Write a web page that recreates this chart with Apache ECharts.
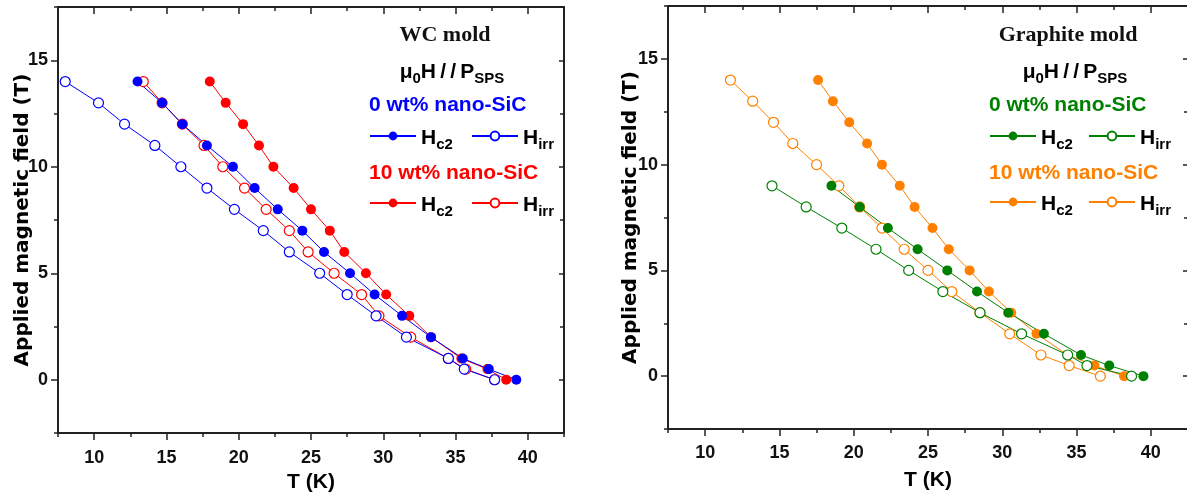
<!DOCTYPE html>
<html>
<head>
<meta charset="utf-8">
<script src="https://cdn.jsdelivr.net/npm/echarts@6/dist/echarts.min.js"></script>
<style>
  html, body { margin: 0; padding: 0; background: #fff; }
  #chart { width: 1187px; height: 497px; }
</style>
</head>
<body>
<div id="chart"></div>
<script>
// ---------------- DATA ----------------
// Applied field levels (T)
const fieldLevels = [14, 13, 12, 11, 10, 9, 8, 7, 6, 5, 4, 3, 2, 1, 0.5, 0];
const fieldLevelsG0 = [9, 8, 7, 6, 5, 4, 3, 2, 1, 0.5, 0];

// WC mold, temperature (K)
const wc0Hc2T   = [13.0, 14.7, 16.1, 17.8, 19.6, 21.1, 22.7, 24.4, 25.9, 27.7, 29.4, 31.3, 33.3, 35.5, 37.3, 39.2];
const wc0HirrT  = [8.0, 10.3, 12.1, 14.2, 16.0, 17.8, 19.7, 21.7, 23.5, 25.6, 27.5, 29.5, 31.6, 34.5, 35.6, 37.7];
const wc10Hc2T  = [18.0, 19.1, 20.3, 21.4, 22.4, 23.8, 25.0, 26.3, 27.3, 28.8, 30.2, 31.8, 33.3, 35.4, 37.2, 38.5];
const wc10HirrT = [13.4, 14.7, 16.1, 17.6, 18.9, 20.4, 21.9, 23.5, 24.8, 26.6, 28.5, 29.7, 31.9, 34.5, 35.7, 37.7];

// Graphite mold, temperature (K)
const gr0Hc2T   = [18.5, 20.4, 22.3, 24.3, 26.3, 28.3, 30.4, 32.8, 35.3, 37.2, 39.5];
const gr0HirrT  = [14.5, 16.8, 19.2, 21.5, 23.7, 26.0, 28.5, 31.3, 34.4, 35.7, 38.7];
const gr10Hc2T  = [17.6, 18.6, 19.7, 20.9, 21.9, 23.1, 24.1, 25.3, 26.4, 27.8, 29.1, 30.6, 32.3, 34.4, 36.2, 38.2];
const gr10HirrT = [11.7, 13.2, 14.6, 15.9, 17.5, 19.0, 20.4, 21.9, 23.4, 25.0, 26.6, 28.5, 30.5, 32.6, 34.5, 36.6];

// Tick labels
const xTickValues = [10, 15, 20, 25, 30, 35, 40];
const yTickValues = [0, 5, 10, 15];

// ---------------- STYLE ----------------
const C_BLUE = '#0000FF', C_RED = '#FF0000', C_GREEN = '#008000', C_ORANGE = '#FF8000';
const AX = '#222';
const SANS = '"Liberation Sans", Arial, sans-serif';
const SERIF = '"Liberation Serif", "Times New Roman", serif';

function zip(ts, hs) { return ts.map((t, i) => [t, hs[i]]); }

function mkSeries(name, ts, hs, color, filled, xi) {
  return {
    name: name, type: 'line', xAxisIndex: xi, yAxisIndex: xi,
    data: zip(ts, hs),
    symbol: 'circle', symbolSize: 10,
    lineStyle: { color: color, width: 1 },
    itemStyle: filled ? { color: color, borderColor: color, borderWidth: 0 }
                      : { color: '#fff', borderColor: color, borderWidth: 1.2 },
    emphasis: { disabled: true },
    animation: false, clip: true
  };
}

const richSub = {
  h: { fontSize: 21, fontWeight: 'bold', fontFamily: SANS, color: '#000', padding: [8, 0, 3, 0] },
  s: { fontSize: 15, fontWeight: 'bold', fontFamily: SANS, color: '#000', verticalAlign: 'bottom' }
};
const LABELS = {};
function mkLegend(name, disp, left, cy) {
  LABELS[name] = disp;
  return {
    show: true, left: left, top: cy - 8, orient: 'horizontal', padding: 0,
    itemWidth: 46, itemHeight: 11, itemGap: 0, selectedMode: false,
    data: [name],
    formatter: n => LABELS[n],
    textStyle: { color: '#000', rich: richSub }
  };
}

// Axes builders
function gridRect(left, top, width, height) {
  return { left: left, top: top, width: width, height: height, containLabel: false, outerBoundsMode: 'none', show: false };
}
function xMinor(gi, pos, name, nameGap) {
  return {
    type: 'value', gridIndex: gi, position: pos, min: 7.5, max: 42.5, interval: 2.5,
    axisLine: { show: true, onZero: false, lineStyle: { color: AX, width: 2 } },
    axisTick: { show: true, inside: pos === 'top', length: 4, lineStyle: { color: AX, width: 1.5 } },
    axisLabel: { show: false }, splitLine: { show: false },
    name: name || '', nameLocation: 'middle', nameGap: nameGap || 0,
    nameTextStyle: { fontFamily: SANS, fontWeight: 'bold', fontSize: 21, color: '#000' }
  };
}
function xMajor(gi, pos, margin) {
  return {
    type: 'value', gridIndex: gi, position: pos, min: 7.5, max: 42.5,
    axisLine: { show: false, onZero: false },
    axisTick: { show: true, inside: pos === 'top', length: 7, customValues: xTickValues, lineStyle: { color: AX, width: 1.5 } },
    axisLabel: { show: pos === 'bottom', customValues: xTickValues, margin: margin, fontFamily: SANS, fontWeight: 'bold', fontSize: 18, color: '#111' },
    splitLine: { show: false }
  };
}
function yMinor(gi, pos, name, nameGap) {
  return {
    type: 'value', gridIndex: gi, position: pos, min: -2.5, max: 17.5, interval: 2.5,
    axisLine: { show: true, onZero: false, lineStyle: { color: AX, width: 2 } },
    axisTick: { show: true, inside: pos === 'right', length: 4, lineStyle: { color: AX, width: 1.5 } },
    axisLabel: { show: false }, splitLine: { show: false },
    name: name || '', nameLocation: 'middle', nameGap: nameGap || 0,
    nameTextStyle: { fontFamily: '"DejaVu Sans", sans-serif', fontWeight: 'bold', fontSize: 20, color: '#000' }
  };
}
function yMajor(gi, pos) {
  return {
    type: 'value', gridIndex: gi, position: pos, min: -2.5, max: 17.5,
    axisLine: { show: false, onZero: false },
    axisTick: { show: true, inside: pos === 'right', length: pos === 'right' ? 5 : 7, customValues: yTickValues, lineStyle: { color: AX, width: 1.5 } },
    axisLabel: { show: pos === 'left', customValues: yTickValues, margin: 10, fontFamily: SANS, fontWeight: 'bold', fontSize: 18, color: '#111' },
    splitLine: { show: false }
  };
}

const yName = 'Applied magnetic field (T)';
const muText = '{h|μ}{s|0}{h|H\u2009/\u2009/\u2009P}{s|SPS}';

const option = {
  backgroundColor: '#fff',
  animation: false,
  grid: [
    gridRect(58, 7, 506, 426), gridRect(58, 7, 506, 426),
    gridRect(668, 6, 520, 423), gridRect(668, 6, 520, 423)
  ],
  xAxis: [
    xMinor(0, 'bottom', 'T (K)', 39), xMinor(0, 'top'),
    xMajor(1, 'bottom', 16), xMajor(1, 'top'),
    xMinor(2, 'bottom', 'T (K)', 41), xMinor(2, 'top'),
    xMajor(3, 'bottom', 15), xMajor(3, 'top')
  ],
  yAxis: [
    yMinor(0, 'left', yName, 25), yMinor(0, 'right'),
    yMajor(1, 'left'), yMajor(1, 'right'),
    yMinor(2, 'left', yName, 27), yMinor(2, 'right'),
    yMajor(3, 'left'), yMajor(3, 'right')
  ],
  legend: [
    mkLegend('WC 0 Hc2', '{h|H}{s|c2}', 369, 136),
    mkLegend('WC 0 Hirr', '{h|H}{s|irr}', 471, 136),
    mkLegend('WC 10 Hc2', '{h|H}{s|c2}', 369, 203),
    mkLegend('WC 10 Hirr', '{h|H}{s|irr}', 471, 203),
    mkLegend('Gr 0 Hc2', '{h|H}{s|c2}', 989, 136),
    mkLegend('Gr 0 Hirr', '{h|H}{s|irr}', 1088, 136),
    mkLegend('Gr 10 Hc2', '{h|H}{s|c2}', 989, 202),
    mkLegend('Gr 10 Hirr', '{h|H}{s|irr}', 1088, 202)
  ],
  graphic: [
    { type: 'text', x: 445, y: 35, style: { text: 'WC mold', font: 'bold 22px ' + SERIF, fill: '#111', align: 'center', verticalAlign: 'middle' } },
    { type: 'text', x: 452, y: 70, style: { text: muText, rich: richSub, align: 'center', verticalAlign: 'middle' } },
    { type: 'text', x: 369, y: 105, style: { text: '0 wt% nano-SiC', font: 'bold 21px ' + SANS, fill: C_BLUE, align: 'left', verticalAlign: 'middle' } },
    { type: 'text', x: 369, y: 173, style: { text: '10 wt% nano-SiC', font: 'bold 21px ' + SANS, fill: C_RED, align: 'left', verticalAlign: 'middle' } },
    { type: 'text', x: 1068, y: 35, style: { text: 'Graphite mold', font: 'bold 22px ' + SERIF, fill: '#111', align: 'center', verticalAlign: 'middle' } },
    { type: 'text', x: 1075, y: 70, style: { text: muText, rich: richSub, align: 'center', verticalAlign: 'middle' } },
    { type: 'text', x: 989, y: 105, style: { text: '0 wt% nano-SiC', font: 'bold 21px ' + SANS, fill: C_GREEN, align: 'left', verticalAlign: 'middle' } },
    { type: 'text', x: 989, y: 173, style: { text: '10 wt% nano-SiC', font: 'bold 21px ' + SANS, fill: C_ORANGE, align: 'left', verticalAlign: 'middle' } }
  ],
  series: [
    mkSeries('WC 10 Hirr', wc10HirrT, fieldLevels, C_RED, false, 0),
    mkSeries('WC 10 Hc2', wc10Hc2T, fieldLevels, C_RED, true, 0),
    mkSeries('WC 0 Hirr', wc0HirrT, fieldLevels, C_BLUE, false, 0),
    mkSeries('WC 0 Hc2', wc0Hc2T, fieldLevels, C_BLUE, true, 0),
    mkSeries('Gr 10 Hirr', gr10HirrT, fieldLevels, C_ORANGE, false, 4),
    mkSeries('Gr 10 Hc2', gr10Hc2T, fieldLevels, C_ORANGE, true, 4),
    mkSeries('Gr 0 Hirr', gr0HirrT, fieldLevelsG0, C_GREEN, false, 4),
    mkSeries('Gr 0 Hc2', gr0Hc2T, fieldLevelsG0, C_GREEN, true, 4)
  ]
};

const chart = echarts.init(document.getElementById('chart'), null, { renderer: 'canvas' });
chart.setOption(option);
</script>
</body>
</html>
